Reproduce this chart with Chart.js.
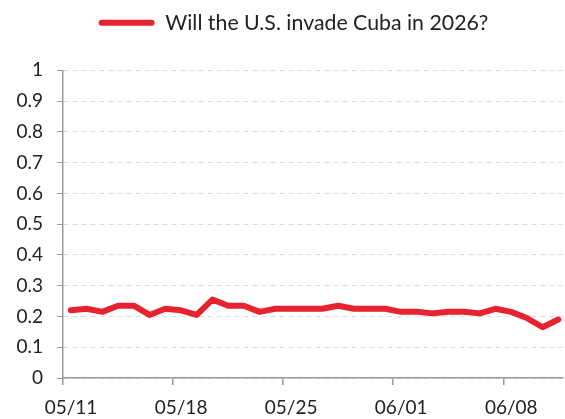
<!DOCTYPE html>
<html>
<head>
<meta charset="utf-8">
<script src="https://cdn.jsdelivr.net/npm/chart.js@4/dist/chart.umd.min.js"></script>
<style>
  html, body { margin: 0; padding: 0; background: #fff; }
  #wrap { width: 565px; height: 419px; }
</style>
</head>
<body>
<div id="wrap"><canvas id="chart" width="565" height="419"></canvas></div>
<script>
// daily readings, 05/11 .. 06/11 (sampled mid-day)
const dates = ['05/11','05/12','05/13','05/14','05/15','05/16','05/17','05/18','05/19','05/20',
               '05/21','05/22','05/23','05/24','05/25','05/26','05/27','05/28','05/29','05/30',
               '05/31','06/01','06/02','06/03','06/04','06/05','06/06','06/07','06/08','06/09',
               '06/10','06/11'];
const probability = [0.22, 0.225, 0.215, 0.235, 0.235, 0.205, 0.225, 0.22, 0.205, 0.255,
                     0.235, 0.235, 0.215, 0.225, 0.225, 0.225, 0.225, 0.235, 0.225, 0.225,
                     0.225, 0.215, 0.215, 0.21, 0.215, 0.215, 0.21, 0.225, 0.215, 0.195,
                     0.165, 0.19];
const tickLabels = ['05/11', '05/18', '05/25', '06/01', '06/08'];
const seriesName = 'Will the U.S. invade Cuba in 2026?';

const red = 'rgb(232, 35, 48)';
const axisGray = '#9a9a9a';

const points = probability.map((v, i) => ({ x: i + 0.5, y: v }));
const tickDays = tickLabels.map(l => dates.indexOf(l));

// gap under the legend, and nudge it a little right of centre
const legendTweak = {
    id: 'legendTweak',
    beforeInit(chart) {
        const fit = chart.legend.fit;
        chart.legend.fit = function () {
            fit.call(this);
            this.height += 27;
        };
    },
    afterLayout(chart) {
        chart.legend.left += 12;
        chart.legend.right += 12;
    }
};

new Chart(document.getElementById('chart').getContext('2d'), {
    type: 'line',
    data: {
        datasets: [{
            label: seriesName,
            data: points,
            borderColor: red,
            backgroundColor: red,
            borderWidth: 6,
            borderJoinStyle: 'round',
            borderCapStyle: 'round',
            pointRadius: 0,
            tension: 0
        }]
    },
    options: {
        responsive: false,
        animation: false,
        devicePixelRatio: 1,
        layout: { padding: { left: 0, right: 2, top: 2, bottom: 0 } },
        plugins: {
            legend: {
                labels: {
                    boxWidth: 56,
                    boxHeight: 6,
                    useBorderRadius: true,
                    borderRadius: 3,
                    color: '#222',
                    font: { family: 'Lato', size: 21.3 },
                    padding: 10,
                    generateLabels: chart => Chart.defaults.plugins.legend.labels.generateLabels(chart)
                        .map(item => Object.assign(item, { lineWidth: 0 }))
                }
            },
            tooltip: { enabled: false }
        },
        scales: {
            x: {
                type: 'linear',
                min: 0,
                max: 31.8,
                afterBuildTicks: scale => { scale.ticks = tickDays.map(v => ({ value: v })); },
                afterFit: scale => { scale.height = 41; },
                grid: {
                    drawOnChartArea: false,
                    color: axisGray,
                    tickLength: 7,
                    lineWidth: 1.5
                },
                border: { color: axisGray, width: 1.5 },
                ticks: {
                    autoSkip: false,
                    maxRotation: 0,
                    color: '#222',
                    font: { family: 'Lato', size: 19 },
                    padding: 11,
                    labelOffset: 8,
                    callback: v => dates[v]
                }
            },
            y: {
                min: 0,
                max: 1,
                afterFit: scale => { scale.width = 63; },
                grid: {
                    color: '#dcdcdc',
                    lineWidth: 1,
                    tickColor: axisGray,
                    tickBorderDash: [],
                    tickLength: 6
                },
                border: { color: axisGray, width: 1.5, dash: [5, 4] },
                ticks: {
                    stepSize: 0.1,
                    color: '#222',
                    font: { family: 'Lato', size: 19 },
                    padding: 14,
                    callback: v => String(Math.round(v * 10) / 10)
                }
            }
        }
    },
    plugins: [legendTweak]
});
</script>
</body>
</html>
